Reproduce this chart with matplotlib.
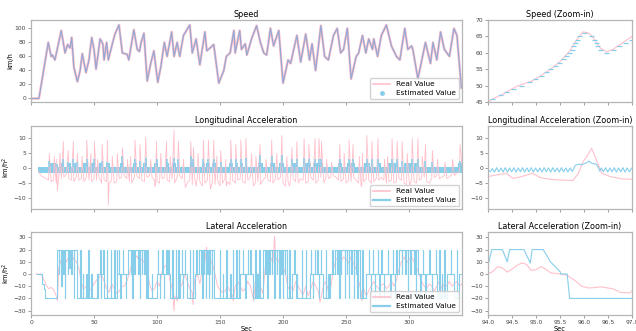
import numpy as np
import matplotlib
matplotlib.use("Agg")
import matplotlib.pyplot as plt
from matplotlib.lines import Line2D

PINK = "#ffc0cb"
BLUE = "#87ceeb"
SPEED_EST = "#94a9d3"

# ---------------- speed (km/h) ----------------
speed_t = [
    0, 6.3, 13.7, 16, 17, 19, 24, 27, 29, 31,
    32.3, 34, 36.8, 39, 40.7, 43.6, 46, 48.2, 50, 51.6,
    53, 54.8, 57, 58, 60, 61.4, 62.7, 66.6, 69.8, 72.5,
    76.3, 77.6, 81.6, 84.3, 86, 87.4, 89.6, 92.2, 95, 97.5,
    100.6, 103, 105.8, 108, 111.6, 113.5, 116, 118, 121, 126,
    128, 131, 134, 138, 139.5, 142, 145, 149, 153, 155,
    158, 161, 162, 165.6, 167, 170, 171.3, 175, 179, 182,
    184.7, 187, 190, 192.5, 196.6, 200, 204, 206, 211, 214,
    218, 221, 223, 225.8, 230, 233, 236, 240, 243, 245.7,
    248, 251, 254, 258, 260, 263, 265.7, 268, 271, 272,
    275, 278, 282, 286, 290, 292.7, 296.6, 299, 302, 303,
    307, 313, 317, 319, 322, 325, 328, 332, 335.6, 338,
    341.5]
speed_kmh = [
    0, 0, 80, 60, 62, 55, 97, 65, 77, 72,
    87, 45, 24, 40, 64, 37, 55, 87, 70, 42,
    60, 85, 78, 55, 80, 55, 65, 92, 105, 65,
    63, 55, 98, 70, 67, 80, 93, 25, 50, 68,
    23, 45, 80, 60, 95, 60, 80, 60, 90, 105,
    65, 85, 48, 95, 68, 72, 77, 22, 40, 60,
    65, 97, 65, 97, 70, 78, 62, 85, 104, 80,
    65, 62, 100, 75, 97, 22, 55, 50, 90, 52,
    92, 55, 78, 40, 104, 60, 55, 90, 100, 65,
    70, 100, 28, 60, 65, 90, 65, 85, 70, 85,
    60, 90, 105, 75, 60, 55, 100, 70, 75, 70,
    28, 80, 50, 80, 55, 95, 70, 60, 100, 90,
    15]

# speed zoom-in
sz_t = [94.0, 94.15, 94.3, 94.45, 94.6, 94.75, 94.9, 95.1, 95.3, 95.5,
        95.7, 95.85, 95.98, 96.1, 96.2, 96.33, 96.47, 96.6, 96.8, 97.0]
sz_real = [45, 46.3, 47.3, 48.6, 49.8, 50.6, 51.3, 53, 55, 57.3,
           60.5, 64, 66.4, 66, 64.5, 61.5, 60.3, 61, 63, 65]
sz_est_t = [94.08, 94.25, 94.38, 94.53, 94.68, 94.85, 94.98, 95.1, 95.2, 95.3,
            95.4, 95.48, 95.56, 95.63, 95.69, 95.74, 95.78, 95.82, 95.86, 95.9,
            96.0, 96.15, 96.2, 96.24, 96.28, 96.33, 96.45, 96.6, 96.72, 96.85,
            96.97]
sz_est = [46, 47, 48, 49, 50, 51, 52, 53, 54, 55,
          56, 57, 58, 59, 60, 61, 62, 63, 64, 65,
          66, 65, 64, 63, 62, 61, 60, 61, 62, 63,
          64]

# ---------------- longitudinal acceleration ----------------
long_base_t = list(range(6, 343, 2))
long_base = [
    -1, -2.5, -3, -3.5, -4, -4.5, -4, -5, -3, -3.5,
    -3, -2, -3.5, -4, -4.5, -3, -4, -3.5, -4.5, -3,
    -4, -4.5, -3.5, -4, -3, -5, -4, -4.5, -5, -4,
    -5, -4.5, -3.5, -3, -2.5, -3.5, -4.5, -5, -3, -2.5,
    -3.5, -4, -4.5, -3, -2.5, -3, -4, -4.5, -5, -3.5,
    -3, -4, -4.5, -3.5, -5, -3, -2.5, -3.5, -4, -5,
    -4, -5.5, -4, -3, -4.5, -6, -5, -4, -5, -4.5,
    -5.5, -4, -6, -5, -3.5, -4.5, -5.5, -4, -5, -4,
    -3.5, -4.5, -5, -4, -3, -3.5, -5, -4.5, -5.5, -4,
    -3, -4, -4.5, -5, -3.5, -4, -3, -5, -6, -4.5,
    -4, -3.5, -4.5, -5, -3.5, -4, -5, -4.5, -3, -4,
    -5, -4, -3, -2.5, -3, -3.5, -3, -2.5, -3, -4,
    -4.5, -3.5, -5, -4, -4.5, -3, -4, -5, -6, -4.5,
    -3.5, -4, -5, -4.5, -3.5, -4, -3, -4, -5, -4.5,
    -4, -5, -4.5, -3.5, -4, -5, -5.5, -4, -3.5, -4.5,
    -5, -4, -3.5, -3, -4.5, -5, -3.5, -3, -2.5, -3.5,
    -3, -2.5, -3.5, -3, -2, -2.5, -1.5, -1, 1]
long_spk_t = [14.5, 20.4, 25.7, 29.6, 33.6, 36.8, 44.2, 50.3, 56.5, 60.6,
              72.5, 82.5, 86.5, 91, 99.7, 107.6, 113.5, 117, 126.8, 128.9,
              136.8, 140.8, 145, 150.5, 158.5, 162.5, 166.5, 170.5, 181.8, 191,
              199, 207, 211, 216.7, 220.5, 225.4, 228.5, 230.5, 245, 252.4,
              255.6, 266.5, 270.5, 275.4, 286.5, 290.5, 294.5, 302.5, 307, 313,
              318.5, 340.5]
long_spk_real = [5, 3, 9, 6, 9, 5, 9.5, 9, 8, 9.5,
                 7, 9.5, 8, 10.4, 9, 9, 12.8, 9, 9, 7,
                 9.5, 9.5, 9.5, 6, 9.5, 8, 9.5, 10, 8, 9.5,
                 11, 7, 9, 10, 8, 10, 10, 9, 8, 9.5,
                 8, 11, 9, 10, 10, 9, 9, 10, 10, 8,
                 6, 8]
long_spk_est = [2.5, 1.5, 3, 2, 3, 2, 3, 3, 2.5, 2,
                4, 3, 2.5, 3.5, 3, 3, 3.5, 3, 4, 3,
                3, 3, 3, 2, 3, 3, 3, 3.5, 4.5, 4,
                4.5, 3, 3, 3.5, 3, 3, 3, 3, 3, 3,
                3, 3, 3, 3, 3, 3, 2.5, 3, 3, 2.5,
                2, 2.5]
long_small_t = [18.5, 23, 40.5, 47.5, 53, 64.5, 68.5, 76.5, 79, 95,
                103, 110.5, 121, 132.5, 147.5, 154.5, 175, 178.5, 186.5, 195,
                203, 234.5, 238.5, 248.5, 260.5, 263, 280.5, 283, 298.5, 310.5,
                322.5, 328.5, 334.5]
long_small = [4, 5, 4, 5, 3, 4, 5, 3, 4, 3,
              5, 4, 3, 5, 4, 3, 5, 4, 3, 5,
              4, 3, 2, 5, 4, 5, 3, 4, 5, 4,
              3, 2, 3]
long_dip_t = [20.9, 61.4, 98.5, 122.5, 131, 142.5, 155, 176.5, 205, 232.5, 262.5, 300.5]
long_dip = [-7.6, -12.2, -6, -6.5, -6, -7, -6, -6, -6, -5, -6, -6]
# estimated: dense quantised band, raised plateaus after the peaks
long_band = (5.8, 342, -1.7, 0.3)
plat_start = [14.5, 22, 28.5, 33, 41, 47, 54, 59.5, 70.5, 81,
              89, 97.5, 107, 111.6, 126, 135.5, 139, 144, 157, 161.6,
              165.6, 180.5, 190, 196.6, 208, 217.5, 223.6, 244, 251, 264.6,
              275, 283.4, 296, 304, 339]
plat_end = [20, 26.5, 32, 36, 45, 51, 56, 63, 74, 84.5,
            92, 101, 109.6, 115, 129, 138, 142, 147, 160, 164,
            168, 184.4, 194, 200.5, 212, 222, 231.5, 247, 257, 269,
            278, 291.4, 303, 308, 342]
plat_level = 1.7

# longitudinal zoom-in
lz_t = [94.0, 94.1, 94.2, 94.38, 94.52, 94.7, 94.93, 95.07, 95.2, 95.35,
        95.55, 95.77, 95.88, 95.98, 96.08, 96.16, 96.26, 96.37, 96.55, 96.8, 97.0]
lz_real = [-2.8, -2.5, -2.2, -1.7, -3.4, -2.8, -1.7, -3.0, -3.5, -3.8,
           -4.0, -4.1, -1.8, 2.2, 4.5, 6.7, 2.7, -1.7, -2.8, -3.6, -3.7]
lz_est_a = [-0.5, -1.2, -0.1, -1.3, 0.2, -1.2, 0.1, -1.3, 0.2, -1.3,
            0.1, -1.2, 0.2, -1.3, 0.1, -1.2, 0.2, -1.3, 0.1, -1.2,
            0.2, -1.3, 0.1, -1.2, 0.1, -1.3, 0.2, -1.2, 0.1, -1.3,
            0.2, -1.2, 0.1, -1.3, 0.2, -1.2, 0.1, -1.3, 0.1, -1.1]
lz_est_b_t = [95.78, 95.82, 95.86, 95.9, 95.95, 96.0, 96.05, 96.1, 96.14, 96.18,
              96.22, 96.26, 96.3, 96.33]
lz_est_b = [-0.3, 1.0, 1.2, 1.4, 1.1, 1.5, 1.8, 2.4, 1.9, 1.6,
            1.5, 1.3, 0.2, -1.0]
lz_est_c = [0.1, -1.2, 0.2, -1.3, 0.1, -1.2, 0.2, -1.3, 0.1, -1.2,
            0.2, -1.3, 0.1, -1.2, 0.0]

# ---------------- lateral acceleration ----------------
lat_real_t = list(range(4, 343, 2))
lat_real = [
    0, 0, 0, -4, -9, -12, -11, -13, -18, 5,
    12, 15, 10, 14, 16, 12, 10, 5, -8, -12,
    -10, -14, -12, -8, -5, -3, -1, -6, -12, -15,
    -8, -12, -16, -14, -10, -10, -6, 0, 8, 12,
    15, 10, 12, 9, 5, -8, -14, -12, -6, -10,
    2, 6, 8, -4, -12, -18, -22, -12, -8, 0,
    -6, -12, -15, -4, 0, -8, 5, 10, 14, 12,
    8, 0, -10, -13, -15, -14, -10, -14, -18, -10,
    -6, -10, -14, -12, -6, -10, -18, -6, 0, -10,
    -16, 6, 10, 14, 9, 14, 10, 14, 6, 0,
    -12, -10, -14, -6, -10, -14, -17, -10, -18, -12,
    -6, -10, -14, -20, -10, -6, -14, -10, 4, 12,
    14, 10, 14, 12, 9, 14, 8, 4, -6, -14,
    -12, -18, -14, -10, -6, -10, -12, -9, -8, -12,
    -10, -6, -10, -5, 4, 10, 14, 9, 12, 14,
    10, 5, 0, -6, -10, -12, -8, -10, -14, -10,
    -6, -12, -8, -10, -6, -10, -8, -6, -10, -8]
lat_rspk_t = [21, 113.5, 128.5, 139.3, 160.5, 176.7, 193.3, 229.3, 262.7]
lat_rspk = [-22, -30, -25, 22, -22, -22, 31, -23, -22]

lat_seg_t = [4.5, 8.7, 10, 11.5, 20.3, 36.2, 52, 55.2, 68.5, 77,
             93, 100, 110, 118, 124, 130, 133, 145, 166, 176,
             184, 203, 207, 210, 213.5, 221, 232, 237, 241, 261,
             266, 292, 307, 322, 330, 336, 340, 342]
lat_seg = [0, -8, -12, -20, 20, -20, 0, -20, 0, 20,
           -20, 0, -20, 0, -20, 0, 20, -20, 0, -20,
           20, -20, 0, -20, -20, 0, -20, 0, 20, -20,
           0, 20, 0, -20, 0, -20, 0, 0]
lat_spk_t = [22, 24, 25.5, 27, 29, 30.5, 32, 34,
             39, 41, 44, 45.5, 48,
             53, 55, 57.5, 60, 63.5, 66, 68,
             69.5, 71, 73, 75,
             79, 80.5, 82, 85, 86.5, 88, 90, 91.5,
             96,
             100.5, 102, 104, 105.5, 107.5, 109,
             112, 115, 117,
             119.5, 120.5, 122,
             126, 128.5, 131,
             135, 136, 137, 138.5, 140, 141, 142, 143.5,
             150, 152, 155, 158, 160, 163, 165,
             168, 170, 172, 174,
             178, 179.5, 181,
             186, 187.5, 189, 191, 193, 195, 197, 198.5, 200, 201.5,
             205, 209, 211,
             215, 218,
             222, 223.5, 225, 227, 228.5, 230,
             234, 236, 239,
             243, 244.5, 246, 249, 250.5, 252, 254, 256, 257.5, 259,
             263,
             268, 269.5, 271, 273, 275, 276.5, 278, 280, 283, 285, 287, 288.5, 290,
             294, 297, 299, 301, 304, 305.5,
             309, 311, 313, 316, 318, 321,
             324, 326, 328, 331, 333, 335, 338, 339]
lat_spk = [0, -10, 0, -20, 0, 5, 0, -20,
           20, 0, 0, 20, 0,
           -20, 20, 20, 20, 20, 20, 20,
           20, -20, 20, -20,
           0, -20, 0, 0, -20, 0, 0, -20,
           0,
           20, -20, 20, -20, 20, 20,
           20, 20, 20,
           20, -20, 20,
           20, 20, 20,
           0, -20, 0, -20, 0, -20, 0, -20,
           20, 0, 20, 0, 20, 20, 20,
           20, -20, 20, 20,
           20, 0, 20,
           0, -20, 0, 0, -20, 0, -20, 0, -20, 0,
           20, 20, 0,
           20, 20,
           20, -20, 20, 20, -20, 20,
           20, 0, 20,
           0, -20, 0, -20, 0, -20, 0, -20, 0, -20,
           20,
           20, -20, 20, -20, 20, -20, 20, -20, 20, -20, 20, -20, 20,
           0, 0, -20, 0, 0, -20,
           -20, 20, -20, 20, -20, 20,
           20, 0, 20, 0, 20, 0, 20, -20]

# lateral zoom-in
latz_t = [94.0, 94.1, 94.2, 94.3, 94.4, 94.5, 94.6, 94.7, 94.8, 94.9,
          95.0, 95.1, 95.2, 95.3, 95.5, 95.65, 95.8, 95.95, 96.1, 96.25,
          96.35, 96.5, 96.6, 96.75, 96.95, 97.0]
latz_real = [0, 2, 6, 5, 1.5, 4, 7, 9, 8, 3,
             3.5, 6, 4, 1, 0, -1, -5, -10, -11.5, -11,
             -10.5, -11.5, -12, -15, -15.5, -14]
latz_est_t = [94.0, 94.08, 94.3, 94.4, 94.45, 94.75, 94.88, 94.92, 95.15, 95.3,
              95.4, 95.5, 95.52, 95.65, 95.7, 97.0]
latz_est = [7, 20, 20, 10, 20, 20, 9, 20, 20, 10,
            6, 2, 0, 0, -20, -20]


def merged(*pairs):
    t = np.concatenate([np.asarray(a, float) for a, _ in pairs])
    v = np.concatenate([np.asarray(b, float) for _, b in pairs])
    order = np.argsort(t, kind="stable")
    return t[order], v[order]


def lateral_steps(seg_t, seg_v, spk_t, spk_v, hold=0.35):
    seg_t = np.asarray(seg_t, float)
    seg_v = np.asarray(seg_v, float)
    ts, vs = list(seg_t), list(seg_v)
    for t, lv in zip(spk_t, spk_v):
        base = seg_v[np.searchsorted(seg_t, t, side="right") - 1]
        ts += [t, t + hold]
        vs += [lv, base]
    order = np.argsort(ts, kind="stable")
    return np.asarray(ts)[order], np.asarray(vs)[order]


def style(ax):
    for s in ax.spines.values():
        s.set_color("#b5b5b5")
        s.set_linewidth(0.9)
    ax.tick_params(labelsize=4.3, length=2, width=0.5, color="#777777",
                   labelcolor="#444444", pad=1.5)


def legend(ax, est_handle):
    real = Line2D([], [], color=PINK, lw=1.2)
    ax.legend([real, est_handle], ["Real Value", "Estimated Value"],
              loc="lower right", fontsize=5.3, frameon=True, fancybox=True,
              edgecolor="#cccccc", framealpha=0.85, handlelength=2.4,
              borderaxespad=0.4, labelspacing=0.35)


def ylabel(ax, text):
    ax.set_ylabel(text, fontsize=4.8)
    ax.yaxis.set_label_coords(-0.041, 0.5)


W, H = 636, 331
fig = plt.figure(figsize=(W / 100, H / 100), dpi=100)


def px_axes(l, t, r, b):
    return fig.add_axes([l / W, 1 - b / H, (r - l) / W, (b - t) / H])


rows = [(20, 102), (126, 209), (232, 315)]
main = [px_axes(31, t, 462, b) for t, b in rows]
zoom = [px_axes(488, t, 632, b) for t, b in rows]
for ax in main + zoom:
    style(ax)

TFS = 5.8
LFS = 4.8

# speed
ax = main[0]
ax.plot(speed_t, speed_kmh, color=PINK, lw=1.8)
ax.plot(speed_t, speed_kmh, color=SPEED_EST, lw=0.9)
ax.set_ylim(-5, 112)
ax.set_yticks([0, 20, 40, 60, 80, 100])
ylabel(ax, "km/h")
ax.set_title("Speed", fontsize=TFS, pad=2.5)
legend(ax, Line2D([], [], color=BLUE, marker="o", ls="none", ms=2.5))

ax = zoom[0]
ax.plot(sz_t, sz_real, color=PINK, lw=0.8)
ax.plot(sz_est_t, sz_est, color=BLUE, marker="_", ls="none", ms=3.6, mew=0.9)
ax.set_ylim(45, 70)
ax.set_yticks([45, 50, 55, 60, 65, 70])
ax.set_title("Speed (Zoom-in)", fontsize=TFS, pad=2.5)

# longitudinal
ax = main[1]
lt, lv = merged((long_base_t, long_base), (long_spk_t, long_spk_real),
                (long_small_t, long_small), (long_dip_t, long_dip))
ax.plot(lt, lv, color=PINK, lw=0.6)
b0, b1, lo, hi = long_band
ax.fill_between([b0, b1], lo, hi, color=BLUE, lw=0)
for s, e in zip(plat_start, plat_end):
    ax.fill_between([s, e], lo, plat_level, color=BLUE, lw=0)
ax.vlines(long_spk_t, hi, long_spk_est, color=BLUE, lw=1.1)
ax.set_ylim(-13.7, 14.2)
ax.set_yticks([-10, -5, 0, 5, 10])
ylabel(ax, "km/h$^2$")
ax.set_title("Longitudinal Acceleration", fontsize=TFS, pad=2.5)
legend(ax, Line2D([], [], color=BLUE, lw=1.6))

ax = zoom[1]
ax.plot(lz_t, lz_real, color=PINK, lw=0.8)
ta = np.round(94.0 + 0.045 * np.arange(len(lz_est_a)), 3)
tc = np.round(96.36 + 0.045 * np.arange(len(lz_est_c)), 3)
zt = np.concatenate([ta, lz_est_b_t, tc])
zv = np.concatenate([lz_est_a, lz_est_b, lz_est_c])
ax.plot(zt, zv, color=BLUE, lw=0.8)
ax.set_ylim(-13.7, 14.2)
ax.set_yticks([-10, -5, 0, 5, 10])
ax.set_title("Longitudinal Acceleration (Zoom-in)", fontsize=TFS, pad=2.5)

# lateral
ax = main[2]
rt, rv = merged((lat_real_t, lat_real), (lat_rspk_t, lat_rspk))
ax.plot(rt, rv, color=PINK, lw=0.7)
st, sv = lateral_steps(lat_seg_t, lat_seg, lat_spk_t, lat_spk)
ax.step(st, sv, where="post", color=BLUE, lw=0.8)
ax.set_ylim(-33.6, 34.4)
ax.set_yticks([-30, -20, -10, 0, 10, 20, 30])
ylabel(ax, "km/h$^2$")
ax.set_xlabel("Sec", fontsize=LFS, labelpad=1)
ax.set_title("Lateral Acceleration", fontsize=TFS, pad=2.5)
legend(ax, Line2D([], [], color=BLUE, lw=1.6))

ax = zoom[2]
ax.plot(latz_t, latz_real, color=PINK, lw=0.8)
ax.plot(latz_est_t, latz_est, color=BLUE, lw=0.8)
ax.set_ylim(-33.6, 34.4)
ax.set_yticks([-30, -20, -10, 0, 10, 20, 30])
ax.set_xlabel("Sec", fontsize=LFS, labelpad=1)
ax.set_title("Lateral Acceleration (Zoom-in)", fontsize=TFS, pad=2.5)

for i, ax in enumerate(main):
    ax.set_xlim(0, 342)
    ax.set_xticks([0, 50, 100, 150, 200, 250, 300])
    if i < 2:
        ax.set_xticklabels([])
for i, ax in enumerate(zoom):
    ax.set_xlim(94.0, 97.0)
    ax.set_xticks([94.0, 94.5, 95.0, 95.5, 96.0, 96.5, 97.0])
    ax.set_xticklabels(["94.0", "94.5", "95.0", "95.5", "96.0", "96.5", "97.0"]
                       if i == 2 else [])

fig.savefig("out.png", dpi=100)
